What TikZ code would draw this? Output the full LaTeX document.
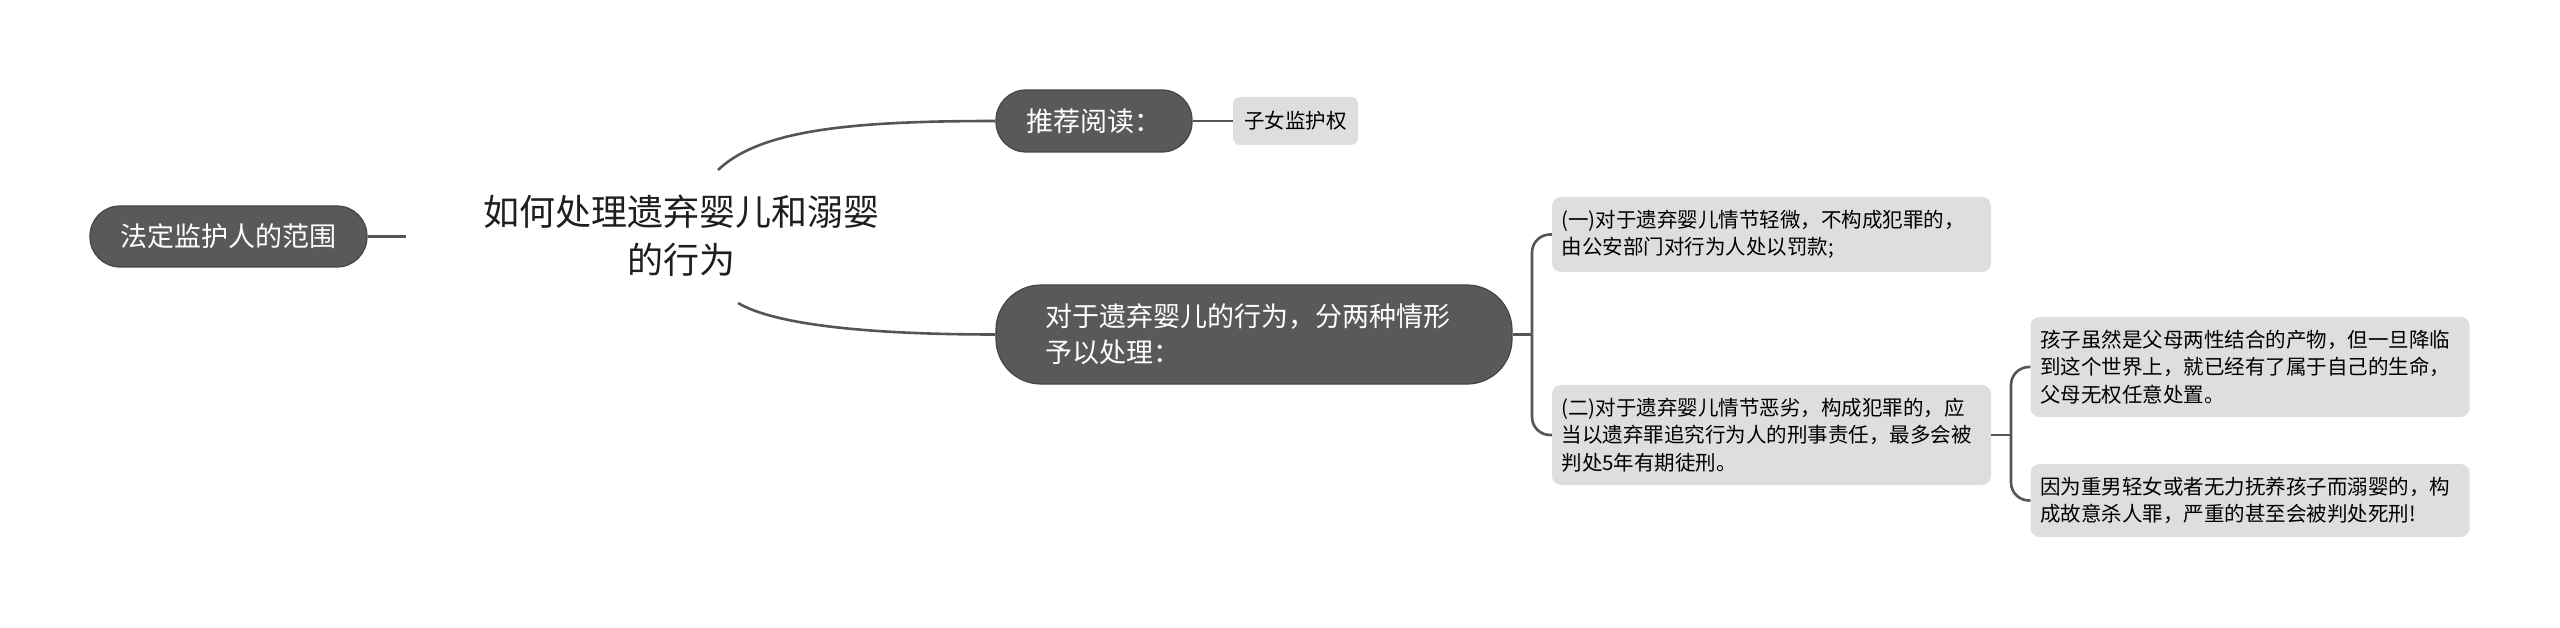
\documentclass[tikz,border=0pt]{standalone}
\usepackage{fontspec}
\setmainfont{Noto Sans CJK SC}
\definecolor{darkfill}{HTML}{595959}
\definecolor{darkline}{HTML}{454545}
\definecolor{lightfill}{HTML}{DEDEDE}
\definecolor{wire}{HTML}{555555}
\definecolor{titlecol}{HTML}{1E1E1E}
\tikzset{
  darkbox/.style={draw=darkline, fill=darkfill, text=white, line width=1.2pt,
    font=\fontsize{27}{36}\selectfont, inner sep=0pt},
  lightbox/.style={fill=lightfill, text=black, rounded corners=9pt,
    font=\fontsize{20.5}{27.5}\selectfont, inner ysep=0pt, inner xsep=9.5pt,
    align=left, text width=420pt},
  wireline/.style={draw=wire, line width=2.6pt},
}
\begin{document}
\begin{tikzpicture}[x=1pt,y=-1pt]
\useasboundingbox (0,0) rectangle (2560,628);
% nodes
\node[darkbox, minimum width=277pt, minimum height=61pt, rounded corners=30pt] (L) at (228.5,236.5) {法定监护人的范围};
\node[font=\fontsize{36}{48}\selectfont, align=center, text=titlecol] (T) at (681,235.5) {如何处理遗弃婴儿和溺婴\\的行为};
\node[darkbox, minimum width=196pt, minimum height=62pt, rounded corners=30pt] (R) at (1094,121) {推荐阅读：};
\node[fill=lightfill, rounded corners=7pt, minimum width=125pt, minimum height=48pt, inner sep=0pt, font=\fontsize{20.5}{27.5}\selectfont] (S) at (1295.5,121) {子女监护权};
\node[darkbox, minimum height=99pt, rounded corners=45pt, inner xsep=49pt, text width=418pt, align=left] (M) at (1254,334.5) {对于遗弃婴儿的行为，分两种情形\\予以处理：};
\node[lightbox, minimum height=75pt] (A) at (1771.5,234.5) {(一)对于遗弃婴儿情节轻微，不构成犯罪的，\\由公安部门对行为人处以罚款;};
\node[lightbox, minimum height=100pt] (B) at (1771.5,435) {(二)对于遗弃婴儿情节恶劣，构成犯罪的，应\\当以遗弃罪追究行为人的刑事责任，最多会被\\判处5年有期徒刑。};
\node[lightbox, minimum height=100pt] (C) at (2250,367) {孩子虽然是父母两性结合的产物，但一旦降临\\到这个世界上，就已经有了属于自己的生命，\\父母无权任意处置。};
\node[lightbox, minimum height=73pt] (D) at (2250,500.5) {因为重男轻女或者无力抚养孩子而溺婴的，构\\成故意杀人罪，严重的甚至会被判处死刑!};
% free ends and junctions
\coordinate (Lend) at (406,236.5);
\coordinate (t1) at (718,170);
\coordinate (t2) at (738,303);
\coordinate (j1) at (1532,334.5);
\coordinate (j2) at (2011,435);
% connectors
\draw[wireline] (L.east) -- (Lend);
\draw[wireline] (t1) .. controls (760,130) and (850,121) .. (R.west);
\draw[wireline] (t2) .. controls (775,325) and (870,334.5) .. (M.west);
\draw[wireline] (R.east) -- (S.west);
\draw[wireline] (M.east) -- (j1);
\draw[wireline, rounded corners=18pt] (j1) |- (A.west);
\draw[wireline, rounded corners=18pt] (j1) |- (B.west);
\draw[wireline] (B.east) -- (j2);
\draw[wireline, rounded corners=18pt] (j2) |- (C.west);
\draw[wireline, rounded corners=18pt] (j2) |- (D.west);
\end{tikzpicture}
\end{document}
